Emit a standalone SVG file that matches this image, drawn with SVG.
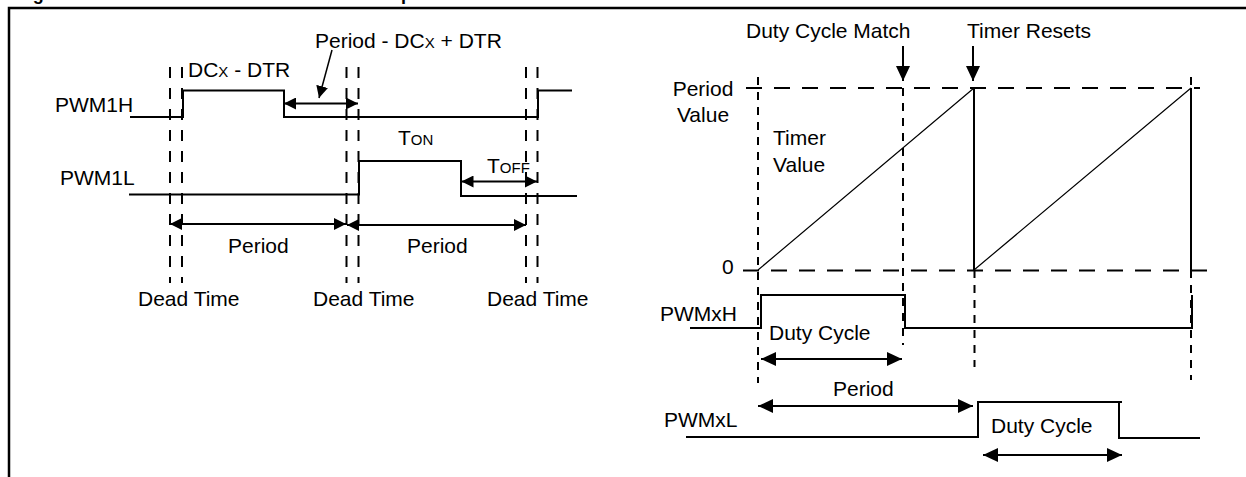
<svg xmlns="http://www.w3.org/2000/svg" width="1246" height="477" viewBox="0 0 1246 477">
<style>
text{font-family:"Liberation Sans",Arial,sans-serif;font-size:21px;fill:#000}
.sm{font-size:15px}
.title{font-weight:bold;font-size:18px}
.wave{fill:none;stroke:#000;stroke-width:2}
.dl{fill:none;stroke:#000;stroke-width:2;stroke-dasharray:11 10}
.dh{fill:none;stroke:#000;stroke-width:2;stroke-dasharray:16 12}
.dv{fill:none;stroke:#000;stroke-width:2;stroke-dasharray:8 7}
.ramp{fill:none;stroke:#000;stroke-width:1.2}
.arr{fill:none;stroke:#000;stroke-width:2;marker-start:url(#ah);marker-end:url(#ah)}
.arr2{fill:none;stroke:#000;stroke-width:2;marker-start:url(#ah2);marker-end:url(#ah2)}
.ptr{fill:none;stroke:#000;stroke-width:2;marker-end:url(#ah2)}
.ptr1{fill:none;stroke:#000;stroke-width:1.5;marker-end:url(#ah)}
</style>
<defs>
<marker id="ah" markerUnits="userSpaceOnUse" markerWidth="12" markerHeight="12" refX="12" refY="6" orient="auto-start-reverse" viewBox="0 0 12 12"><path d="M0,0 L12,6 L0,12 z" fill="#000"/></marker>
<marker id="ah2" markerUnits="userSpaceOnUse" markerWidth="15" markerHeight="14" refX="15" refY="7" orient="auto-start-reverse" viewBox="0 0 15 14"><path d="M0,0 L15,7 L0,14 z" fill="#000"/></marker>
</defs>
<rect width="1246" height="477" fill="#fff"/>
<text class="title" x="10" y="0" textLength="495" lengthAdjust="spacing">Figure 14-13: Push-Pull PWM Output Mode</text>
<path id="frame" d="M9,478 V8 H1247" fill="none" stroke="#000" stroke-width="2.5"/>

<g id="left-deadtime-markers">
<path class="dl" d="M170,67 V283 M182,67 V283 M346.5,67 V283 M358.5,67 V283 M526,67 V283 M537.5,67 V283"/>
</g>
<g id="pwm1h">
<polyline class="wave" points="130,117 183,117 183,90.5 284,90.5 284,117 538,117 538,90.5 572,90.5"/>
<text x="55" y="112">PWM1H</text>
</g>
<g id="pwm1l">
<polyline class="wave" points="129,194.5 359,194.5 359,161 461,161 461,196 577,196"/>
<text x="60" y="185">PWM1L</text>
</g>
<g id="left-labels">
<text x="315" y="48">Period - DC<tspan class="sm">X</tspan> + DTR</text>
<text x="188" y="77">DC<tspan class="sm">X</tspan> - DTR</text>
<text x="398" y="145">T<tspan class="sm">ON</tspan></text>
<text x="487" y="173">T<tspan class="sm">OFF</tspan></text>
<text x="228" y="253">Period</text>
<text x="407" y="253">Period</text>
<text x="138" y="306">Dead Time</text>
<text x="313" y="306">Dead Time</text>
<text x="487" y="306">Dead Time</text>
</g>

<g id="right-grid">
<path class="dh" d="M746,88 H1200 M743,270.5 H1214"/>
<path class="dv" d="M758,77 V383 M903,88 V345 M974.5,270 V367 M1191,77 V88 M1191,270 V380"/>
</g>
<g id="timer">
<path class="ramp" d="M758,270 L974,88 M974,270 L1191,88"/>
<path class="wave" d="M974,88 V270 M1191,88 V270"/>
<text x="703" y="96" text-anchor="middle">Period</text>
<text x="703" y="121.5" text-anchor="middle">Value</text>
<text x="773" y="145">Timer</text>
<text x="773" y="171.5">Value</text>
<text x="722" y="274">0</text>
<text x="746" y="38">Duty Cycle Match</text>
<text x="967" y="38">Timer Resets</text>
</g>
<g id="pwmxh">
<polyline class="wave" points="690,328 761,328 761,295 905,295 905,328 1192,328 1192,295"/>
<text x="660" y="321">PWMxH</text>
<text x="769" y="340">Duty Cycle</text>
</g>
<g id="pwmxl">
<path class="wave" d="M686,437 H978 V402 H1122 M1119,402 V438 H1200"/>
<text x="664" y="427">PWMxL</text>
<text x="991" y="433">Duty Cycle</text>
<text x="833" y="396">Period</text>
</g>

<g id="connectors">
<line class="arr" x1="284" y1="103.5" x2="358" y2="103.5"/>
<line class="ptr1" x1="332" y1="50" x2="319" y2="98"/>
<line class="arr" x1="461.5" y1="181.5" x2="537" y2="181.5"/>
<line class="arr" x1="170" y1="224" x2="346" y2="224"/>
<line class="arr" x1="347" y1="225" x2="526" y2="225"/>
<line class="ptr" x1="903" y1="46" x2="903" y2="81"/>
<line class="ptr" x1="973" y1="46" x2="973" y2="81"/>
<line class="arr2" x1="761" y1="359" x2="902" y2="359"/>
<line class="arr2" x1="758" y1="406" x2="973" y2="406"/>
<line class="arr2" x1="983" y1="455" x2="1122" y2="455"/>
</g>
</svg>
